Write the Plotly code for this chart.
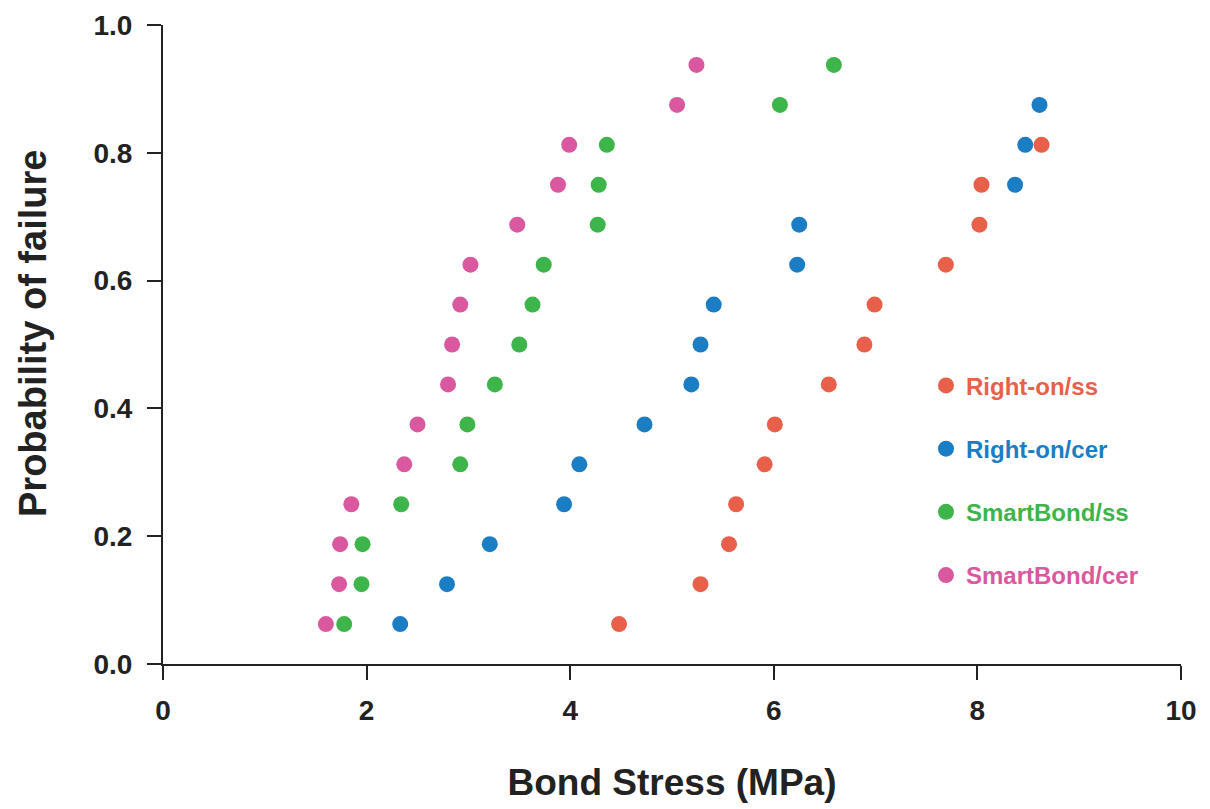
import plotly.graph_objects as go

prob_levels = [0.0625, 0.125, 0.1875, 0.25, 0.3125, 0.375, 0.4375, 0.5,
               0.5625, 0.625, 0.6875, 0.75, 0.8125, 0.875, 0.9375]

rightOn_ss = [4.48, 5.28, 5.56, 5.63, 5.91, 6.01, 6.54, 6.89, 6.99, 7.69, 8.02, 8.04, 8.63]
rightOn_cer = [2.33, 2.79, 3.21, 3.94, 4.09, 4.73, 5.19, 5.28, 5.41, 6.23, 6.25, 8.37, 8.47, 8.61]
smartBond_ss = [1.78, 1.95, 1.96, 2.34, 2.92, 2.99, 3.26, 3.50, 3.63, 3.74, 4.27, 4.28, 4.36, 6.06, 6.59]
smartBond_cer = [1.60, 1.73, 1.74, 1.85, 2.37, 2.50, 2.80, 2.84, 2.92, 3.02, 3.48, 3.88, 3.99, 5.05, 5.24]

series_names = ["Right-on/ss", "Right-on/cer", "SmartBond/ss", "SmartBond/cer"]
series_values = [rightOn_ss, rightOn_cer, smartBond_ss, smartBond_cer]
colors = ["#E8604A", "#1B7DC4", "#3DB54A", "#D9589F"]

x_ticks = [0, 2, 4, 6, 8, 10]
y_ticks = [0.0, 0.2, 0.4, 0.6, 0.8, 1.0]

FONT = "Liberation Sans, Arial, Helvetica, sans-serif"
AXC = "#222222"

fig = go.Figure()
for i, (name, vals, col) in enumerate(zip(series_names, series_values, colors)):
    fig.add_trace(go.Scatter(
        x=vals, y=prob_levels[:len(vals)], mode="markers",
        name=f"<span style='color:{col}'>{name}</span>",
        legendgroup=f"g{i}",
        marker=dict(color=col, size=16, line=dict(width=0)),
    ))

fig.update_layout(
    width=1210, height=809,
    margin=dict(l=155, r=37, t=17, b=153, autoexpand=False),
    paper_bgcolor="white", plot_bgcolor="white",
    font=dict(family=FONT, color=AXC),
    showlegend=True,
    legend=dict(
        x=0.7495, y=0.4705, xanchor="left", yanchor="top",
        font=dict(family=FONT, size=24, weight="bold"),
        tracegroupgap=29, bgcolor="rgba(0,0,0,0)",
        itemwidth=30,
    ),
    xaxis=dict(
        range=[0, 10], tickvals=x_ticks, ticktext=[str(v) for v in x_ticks],
        showgrid=False, zeroline=False, showline=True, linecolor=AXC, linewidth=2,
        ticks="outside", ticklen=14, tickwidth=2, tickcolor=AXC,
        tickfont=dict(family=FONT, size=28, weight="bold", color=AXC),
        ticklabelstandoff=6,
        title=dict(text="Bond Stress (MPa)", standoff=45,
                   font=dict(family=FONT, size=37, weight="bold", color=AXC)),
    ),
    yaxis=dict(
        range=[0, 1], tickvals=y_ticks, ticktext=[f"{v:.1f}" for v in y_ticks],
        showgrid=False, zeroline=False, showline=True, linecolor=AXC, linewidth=2,
        ticks="outside", ticklen=14, tickwidth=2, tickcolor=AXC,
        tickfont=dict(family=FONT, size=28, weight="bold", color=AXC),
        ticklabelstandoff=9,
    ),
    annotations=[dict(
        text="Probability of failure", textangle=-90,
        xref="paper", yref="paper", x=(33 - 163) / 1018, y=(664 - 334) / 639,
        xanchor="center", yanchor="middle", showarrow=False,
        font=dict(family=FONT, size=38, weight="bold", color=AXC),
    )],
)

fig.write_html("out.html")
